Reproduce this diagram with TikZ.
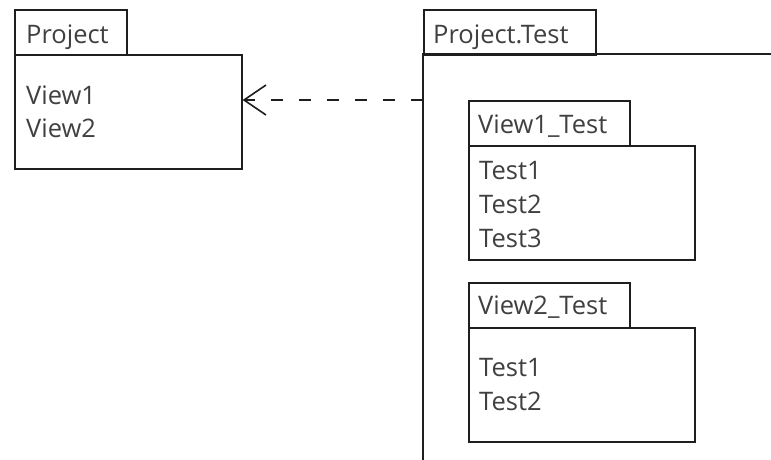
\documentclass[tikz,border=0pt]{standalone}
\usepackage{fontspec}
\setmainfont{Open Sans}
\usetikzlibrary{arrows.meta}
\definecolor{edge}{HTML}{1E1E1E}
\definecolor{ink}{HTML}{404040}
\tikzset{
  box/.style={draw=edge, line width=1.6pt, fill=white, inner sep=0pt},
  label/.style={anchor=base west, inner sep=0pt, text=ink, font=\fontsize{25.5}{33}\selectfont},
  dep/.style={draw=edge, line width=1.6pt, dash pattern=on 12pt off 16pt,
    -{Straight Barb[length=22pt,width=30pt,line width=1.6pt]}}
}
\begin{document}
\begin{tikzpicture}[x=1pt,y=-1pt]
  \useasboundingbox (0,0) rectangle (771,459);

  % package Project
  \node[box, minimum width=112pt, minimum height=45pt, anchor=north west] (projtab) at (14,9) {};
  \node[box, minimum width=227pt, minimum height=114pt, anchor=north west] (projbody) at (14,54) {};
  \node[label] (projname) at (26,43) {Project};
  \node[label] (v1) at (26,104) {View1};
  \node[label] (v2) at (26,137) {View2};

  % package Project.Test (runs off the right and bottom edges)
  \node[box, minimum width=172pt, minimum height=45pt, anchor=north west] (testtab) at (423,9) {};
  \coordinate (testtopright) at (775,54);
  \coordinate (testcorner) at (423,54);
  \coordinate (testbottom) at (423,463);
  \draw[draw=edge, line width=1.6pt] (testtopright) -- (testcorner) -- (testbottom);
  \node[label] (testname) at (433,43) {Project.Test};

  % package View1_Test
  \node[box, minimum width=161pt, minimum height=45pt, anchor=north west] (t1tab) at (468,100) {};
  \node[box, minimum width=226pt, minimum height=114pt, anchor=north west] (t1body) at (468,145) {};
  \node[label] (t1name) at (478,133) {View1\_Test};
  \node[label] (t1a) at (479,179) {Test1};
  \node[label] (t1b) at (479,213) {Test2};
  \node[label] (t1c) at (479,247) {Test3};

  % package View2_Test
  \node[box, minimum width=161pt, minimum height=45pt, anchor=north west] (t2tab) at (468,282) {};
  \node[box, minimum width=226pt, minimum height=114pt, anchor=north west] (t2body) at (468,327) {};
  \node[label] (t2name) at (478,314) {View2\_Test};
  \node[label] (t2a) at (479,376) {Test1};
  \node[label] (t2b) at (479,410) {Test2};

  % dependency Project.Test -> Project
  \coordinate (depstart) at (423,100);
  \draw[dep] (depstart) -- (projbody.east |- depstart);
\end{tikzpicture}
\end{document}
